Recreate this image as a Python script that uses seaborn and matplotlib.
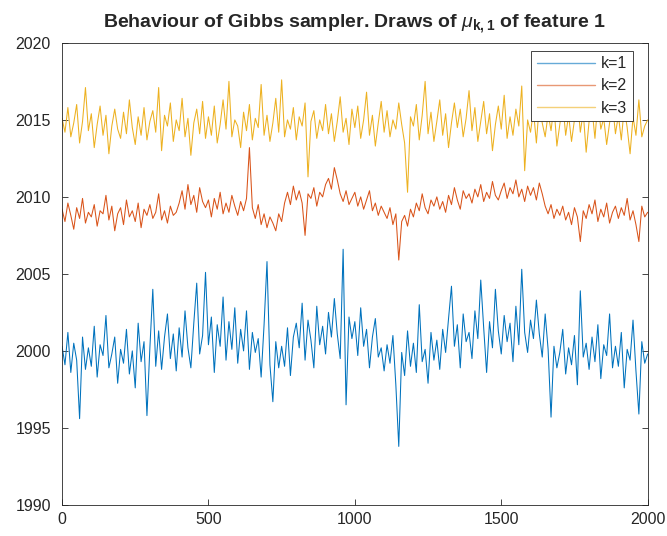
import numpy as np
import pandas as pd
import matplotlib
matplotlib.use("Agg")
import matplotlib.pyplot as plt
import seaborn as sns

# Draws of mu_{k,1}, read every 10 iterations (0..2000)
iterations = list(range(0, 2001, 10))

k1 = [
    2000.3, 1999.1, 2001.2, 1998.6, 2000.5, 1999.4, 1995.6, 2000.9, 1998.8, 2000.2,
    1999.0, 2001.6, 1998.3, 2000.4, 1999.7, 2002.3, 1998.9, 1999.8, 2000.9, 1997.9,
    2000.1, 1999.2, 2001.4, 1998.5, 2000.0, 1997.6, 2001.8, 1999.3, 2000.6, 1995.8,
    2000.2, 2004.0, 1999.0, 2001.3, 1998.8, 2000.9, 2002.4, 1999.5, 2001.1, 1998.7,
    2001.5, 1999.6, 2002.6, 2000.2, 1998.9, 2001.8, 2004.4, 1999.8, 2001.0, 2005.1,
    2000.4, 2002.2, 1998.6, 2001.7, 2000.3, 2003.5, 1999.4, 2001.9, 2000.1, 2002.8,
    1999.2, 2001.4, 2000.0, 2002.6, 1998.8, 2001.2, 1999.9, 2000.8, 1998.3, 2001.7,
    2005.8, 1999.1, 1996.7, 2000.6, 1998.9, 2000.3, 1999.0, 2001.5, 1998.4, 2000.9,
    2001.8, 2000.2, 2003.1, 1999.4, 2002.0, 2000.7, 1998.9, 2002.9, 2000.4, 2001.6,
    1999.8, 2002.5, 2000.9, 2003.4, 2001.1, 1999.5, 2006.6, 1996.5, 2002.2, 2000.8,
    2001.9, 1999.7, 2002.8, 2000.3, 2001.4, 1998.9, 2000.9, 2002.1, 1999.6, 2000.2,
    1998.7, 2000.4, 1999.2, 2001.0, 1997.8, 1993.8, 1999.9, 1998.4, 2001.3, 1999.0,
    2000.5, 1998.6, 2003.0, 1999.3, 2000.1, 1997.9, 2001.2, 1999.4, 2000.7, 1998.8,
    2001.4, 1999.9, 2002.1, 2004.2, 2000.3, 2001.7, 1998.9, 2002.4, 2000.6, 2001.2,
    1999.5, 2002.6, 2000.8, 2004.6, 2001.5, 1998.6, 2001.9, 2000.2, 2004.0, 2001.3,
    1999.8, 2002.3, 2000.6, 2001.8, 1999.3, 2002.9, 2000.4, 2005.3, 2001.2, 1999.9,
    2002.0, 2000.8, 2003.3, 2001.1, 1999.6, 2002.4, 2000.1, 1995.7, 2000.3, 1998.9,
    1999.9, 2001.4, 1998.5, 2000.2, 1999.1, 2001.0, 1997.8, 2003.9, 1999.6, 2000.5,
    1998.8, 2000.9, 1999.3, 2001.7, 1998.2, 2000.4, 1999.7, 2002.4, 1998.9, 2000.3,
    1999.0, 2001.2, 1997.6, 2000.1, 1999.4, 2002.0, 1998.7, 1995.9, 2000.6, 1999.2,
    1999.8,
]

k2 = [
    2009.2, 2008.4, 2009.6, 2008.8, 2007.9, 2009.3, 2008.6, 2009.9, 2008.3, 2009.0,
    2008.7, 2009.5, 2008.1, 2009.1, 2008.9, 2010.1, 2008.5, 2009.4, 2007.8, 2008.9,
    2009.3, 2008.2, 2009.8, 2008.7, 2009.1, 2008.4, 2009.6, 2008.0, 2009.2, 2008.8,
    2009.5, 2008.6, 2009.0, 2010.2, 2008.5, 2009.1, 2008.3, 2009.4, 2008.8, 2009.0,
    2009.6, 2010.4, 2009.2, 2010.8, 2009.5, 2010.1, 2009.0, 2010.6, 2009.7, 2009.3,
    2009.8, 2008.7, 2009.9, 2009.2, 2010.3, 2008.9, 2009.6, 2009.0, 2010.1, 2009.4,
    2008.8, 2009.7, 2009.1, 2009.9, 2013.2, 2009.3, 2008.6, 2009.5, 2008.2, 2008.9,
    2008.0, 2008.7, 2008.3, 2007.8, 2008.9, 2008.4, 2009.6, 2010.3, 2009.5, 2010.7,
    2009.8, 2010.4, 2009.6, 2007.5, 2010.2, 2009.9, 2010.6, 2009.4, 2010.3, 2010.0,
    2010.8, 2011.2, 2010.5, 2011.9, 2011.1, 2010.2, 2009.7, 2010.4, 2009.5, 2009.9,
    2010.3, 2009.4, 2010.0, 2009.2, 2009.8, 2010.4, 2009.1, 2009.6, 2008.8, 2009.4,
    2009.0, 2008.6, 2009.3, 2008.2, 2008.9, 2005.9, 2008.4, 2008.8, 2008.1, 2009.2,
    2008.7, 2009.6, 2009.1, 2010.2, 2009.3, 2008.9, 2009.8, 2009.4, 2010.0, 2009.2,
    2009.7, 2009.0, 2010.1, 2009.5, 2010.6, 2009.8, 2009.2, 2010.4, 2009.9, 2010.2,
    2009.6, 2010.5, 2010.0, 2010.8, 2009.7, 2010.3, 2009.9, 2011.0, 2010.1, 2009.8,
    2010.4, 2010.9, 2009.9, 2010.6, 2010.2, 2011.1, 2010.0, 2010.5, 2009.7, 2010.7,
    2010.1, 2010.6, 2009.8, 2010.9, 2010.2, 2009.4, 2008.9, 2009.5, 2008.6, 2009.2,
    2008.8, 2009.4, 2008.5, 2009.0, 2008.2, 2009.3, 2008.7, 2007.1, 2009.1, 2008.6,
    2009.5, 2008.9, 2009.8, 2008.4, 2009.2, 2008.7, 2009.6, 2008.3, 2009.0, 2009.4,
    2008.6, 2009.3, 2008.8, 2009.9, 2008.5, 2009.1, 2008.2, 2007.1, 2009.4, 2008.7,
    2009.0,
]

k3 = [
    2015.1, 2014.2, 2015.8, 2013.9, 2014.8, 2016.0, 2013.5, 2014.9, 2017.1, 2014.3,
    2015.4, 2013.2, 2014.7, 2015.9, 2014.0, 2015.3, 2012.8, 2014.6, 2015.7, 2014.4,
    2013.8, 2015.5, 2014.1, 2016.3, 2014.5, 2013.4, 2015.2, 2014.0, 2015.8, 2013.7,
    2014.9, 2015.6, 2014.2, 2017.1, 2013.0, 2015.3, 2014.6, 2016.1, 2013.6, 2015.0,
    2014.3, 2016.4, 2013.9, 2015.1, 2012.7, 2014.8, 2015.7, 2014.1, 2016.2, 2013.8,
    2015.2, 2014.0, 2015.9, 2013.5, 2014.7, 2016.3, 2014.4, 2017.5, 2013.9, 2015.0,
    2014.6, 2013.2, 2015.5, 2014.3, 2016.0, 2013.7, 2015.1, 2014.5, 2017.3, 2014.0,
    2015.3, 2013.6, 2014.8, 2016.4, 2014.2, 2017.6, 2013.9, 2015.0, 2014.4, 2015.8,
    2013.7, 2015.2, 2014.6, 2016.1, 2011.3, 2014.9, 2015.6, 2013.8, 2015.0, 2014.3,
    2016.0, 2014.1, 2015.4, 2013.6, 2014.9, 2016.5, 2014.2, 2015.1, 2013.4, 2015.7,
    2014.5, 2015.9, 2013.8, 2015.0, 2016.8, 2014.0, 2015.3, 2013.3, 2014.8, 2016.2,
    2014.2, 2015.6, 2013.9, 2015.0, 2014.4, 2016.1, 2014.7, 2013.5, 2010.3, 2015.2,
    2014.6, 2016.0, 2013.7, 2015.3, 2017.5, 2014.1, 2015.5, 2013.6, 2014.9, 2016.3,
    2014.0, 2015.4, 2013.2, 2014.8, 2016.1, 2014.5, 2015.7, 2013.9, 2015.1, 2016.9,
    2014.3, 2015.8, 2013.6, 2014.9, 2016.2, 2014.1, 2015.4, 2013.0, 2014.7, 2015.9,
    2014.4, 2016.6, 2013.8, 2015.2, 2014.0, 2015.7, 2014.6, 2017.2, 2011.7, 2015.0,
    2014.2, 2015.6, 2013.5, 2016.0, 2014.8, 2013.9, 2015.4, 2014.3, 2015.9, 2013.3,
    2014.7, 2016.1, 2014.0, 2015.3, 2013.6, 2015.0, 2016.4, 2014.2, 2015.5, 2012.9,
    2014.9, 2015.7, 2013.8, 2016.2, 2014.4, 2015.1, 2013.4, 2014.8, 2016.0, 2014.1,
    2015.3, 2013.7, 2015.8, 2014.5, 2012.8, 2015.2, 2014.0, 2016.3, 2013.9, 2014.6,
    2015.0,
]

labels = ["k=1", "k=2", "k=3"]
colors = ["#0072BD", "#D95319", "#EDB120"]
x_ticks = [0, 500, 1000, 1500, 2000]
y_ticks = [1990, 1995, 2000, 2005, 2010, 2015, 2020]

df = pd.concat([
    pd.DataFrame({"iter": iterations, "value": vals, "k": lab})
    for vals, lab in zip([k1, k2, k3], labels)
], ignore_index=True)

sns.set_style("white")
plt.rcParams["font.family"] = ["Liberation Sans", "DejaVu Sans"]
plt.rcParams["mathtext.fontset"] = "custom"
plt.rcParams["mathtext.rm"] = "Liberation Sans"
plt.rcParams["mathtext.it"] = "Liberation Sans:italic"
plt.rcParams["mathtext.bf"] = "Liberation Sans:bold"

fig = plt.figure(figsize=(6.67, 5.36), dpi=100)
ax = fig.add_axes([0.093, 0.058, 0.878, 0.862])

sns.lineplot(data=df, x="iter", y="value", hue="k", palette=dict(zip(labels, colors)),
             estimator=None, sort=False, linewidth=0.75, ax=ax)

ax.set_xlim(0, 2000)
ax.set_ylim(1990, 2020)
ax.set_xticks(x_ticks)
ax.set_yticks(y_ticks)
ax.set_xlabel("")
ax.set_ylabel("")
ax.tick_params(direction="in", length=4, width=0.6, colors="#262626",
               labelsize=11.5, top=False, right=True, left=True, bottom=True)
ax.tick_params(axis="y", pad=8)
ax.tick_params(axis="x", pad=5)
for s in ax.spines.values():
    s.set_visible(True)
    s.set_color("#262626")
    s.set_linewidth(0.6)

ax.set_title(r"Behaviour of Gibbs sampler. Draws of $\mu_{\mathbf{k,1}}$ of feature 1",
             fontsize=14, fontweight="bold", pad=11)

leg = ax.legend(loc="upper right", bbox_to_anchor=(0.98, 0.99), fontsize=11.5,
                frameon=True, fancybox=False, edgecolor="#262626", framealpha=1,
                handlelength=3.6, handletextpad=0.4, borderpad=0.35, labelspacing=0.45,
                borderaxespad=0.2)
leg.get_frame().set_linewidth(0.6)
for line in leg.get_lines():
    line.set_linewidth(1.0)
    line.set_alpha(0.6)

fig.savefig("out.png", dpi=100, facecolor="white")
